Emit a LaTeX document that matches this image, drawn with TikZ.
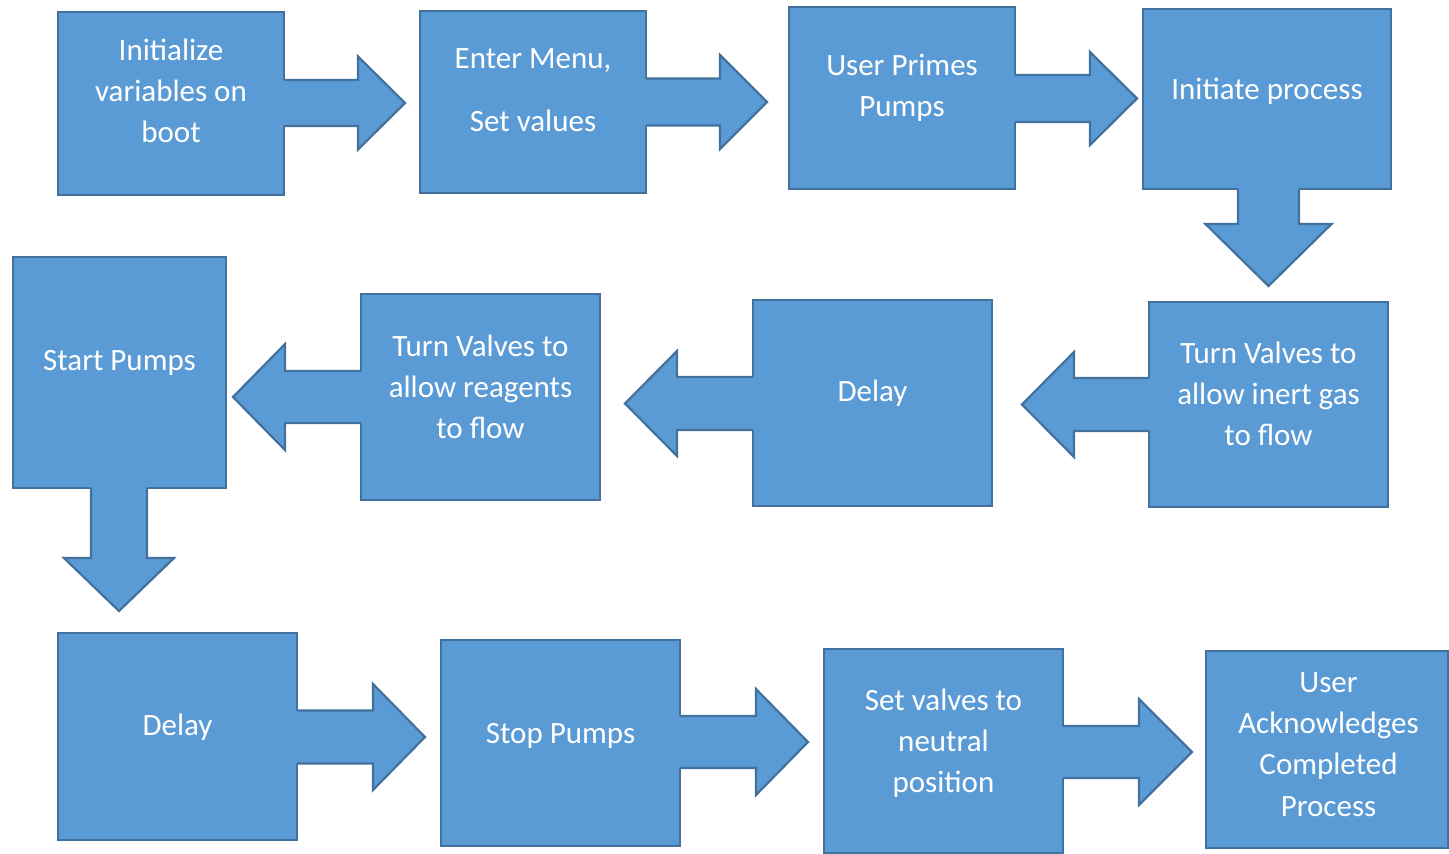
\documentclass[tikz,border=0pt]{standalone}
\usepackage{fontspec}
\setmainfont{Carlito}
\definecolor{boxfill}{HTML}{5B9BD5}
\definecolor{boxline}{HTML}{41719C}
\tikzset{
  flowbox/.style={draw=boxline, fill=boxfill, line width=2.2pt, inner sep=0pt, rectangle},
  boxtext/.style={text=white, align=center, inner sep=0pt, anchor=north,
    font=\fontsize{31}{41.3}\selectfont},
  arrowfill/.style={fill=boxfill},
  arrowline/.style={draw=boxline, line width=2.2pt, line join=miter}
}
% box: name, x1, y1, x2, y2
\newcommand\mkbox[5]{%
  \node[flowbox, minimum width={(#4-#2)*1pt}, minimum height={(#5-#3)*1pt}]
    (#1) at ({(#2+#4)/2},{(#3+#5)/2}) {};}
% horizontal block arrow: fill start x, x0, x1 (head base), x2 (tip), yc, shaft half, head half
\newcommand\harrow[7]{%
  \fill[arrowfill] (#1,#5-#6) -- (#3,#5-#6) -- (#3,#5-#7) -- (#4,#5) -- (#3,#5+#7) -- (#3,#5+#6) -- (#1,#5+#6) -- cycle;
  \draw[arrowline] (#2,#5-#6) -- (#3,#5-#6) -- (#3,#5-#7) -- (#4,#5) -- (#3,#5+#7) -- (#3,#5+#6) -- (#2,#5+#6);}
% vertical block arrow: fill start y, y0, y1 (head base), y2 (tip), xc, shaft half, head half
\newcommand\varrow[7]{%
  \fill[arrowfill] (#5-#6,#1) -- (#5-#6,#3) -- (#5-#7,#3) -- (#5,#4) -- (#5+#7,#3) -- (#5+#6,#3) -- (#5+#6,#1) -- cycle;
  \draw[arrowline] (#5-#6,#2) -- (#5-#6,#3) -- (#5-#7,#3) -- (#5,#4) -- (#5+#7,#3) -- (#5+#6,#3) -- (#5+#6,#2);}

\begin{document}
\begin{tikzpicture}[x=1pt,y=-1pt]
\useasboundingbox[fill=white] (0,0) rectangle (1449,854);

% boxes
\mkbox{b1}{58}{12}{284}{195}
\mkbox{b2}{420}{11}{646}{193}
\mkbox{b3}{789}{7}{1015}{189}
\mkbox{b4}{1143}{9}{1391}{189}
\mkbox{b5}{1149}{302}{1388}{507}
\mkbox{b6}{753}{300}{992}{506}
\mkbox{b7}{361}{294}{600}{500}
\mkbox{b8}{13}{257}{226}{488}
\mkbox{b9}{58}{633}{297}{840}
\mkbox{b10}{441}{640}{680}{846}
\mkbox{b11}{824}{649}{1063}{853}
\mkbox{b12}{1206}{651}{1448}{848}

% connectors (block arrows)
\harrow{282}{284}{358}{405}{103}{23}{46.5}
\harrow{644}{646}{720}{767}{102}{23.5}{47}
\harrow{1013}{1015}{1090}{1137}{98.5}{23.5}{46.5}
\varrow{187}{189}{224}{286}{1268.5}{30.5}{63}
\harrow{1151}{1149}{1074}{1022}{404.5}{26.5}{52.5}
\harrow{755}{753}{677}{625}{403.5}{26.5}{52.5}
\harrow{363}{361}{285}{233}{397}{26}{53}
\varrow{486}{488}{558}{611}{119}{28}{55}
\harrow{295}{297}{373}{425}{737}{26.5}{53}
\harrow{678}{680}{756}{808}{742}{26}{53}
\harrow{1061}{1063}{1139}{1192}{752}{26}{53}

% texts
\node[boxtext] (t1) at (171,36) {\rule{0pt}{24pt}Initialize\\variables on\\boot};
\node[boxtext] (t2) at (533,44) {\rule{0pt}{24pt}Enter Menu,\\[22pt]Set values};
\node[boxtext] (t3) at (902,51) {\rule{0pt}{24pt}User Primes\\Pumps};
\node[boxtext] (t4) at (1267,75) {\rule{0pt}{24pt}Initiate process};
\node[boxtext] (t5) at (1268.5,339) {\rule{0pt}{24pt}Turn Valves to\\allow inert gas\\to flow};
\node[boxtext] (t6) at (872.5,377) {\rule{0pt}{24pt}Delay};
\node[boxtext] (t7) at (480.5,332) {\rule{0pt}{24pt}Turn Valves to\\allow reagents\\to flow};
\node[boxtext] (t8) at (119.5,346) {\rule{0pt}{24pt}Start Pumps};
\node[boxtext] (t9) at (177.5,711) {\rule{0pt}{24pt}Delay};
\node[boxtext] (t10) at (560.5,719) {\rule{0pt}{24pt}Stop Pumps};
\node[boxtext] (t11) at (943.5,686) {\rule{0pt}{24pt}Set valves to\\neutral\\position};
\node[boxtext] (t12) at (1328.5,668) {\rule{0pt}{24pt}User\\Acknowledges\\Completed\\Process};
\end{tikzpicture}
\end{document}
